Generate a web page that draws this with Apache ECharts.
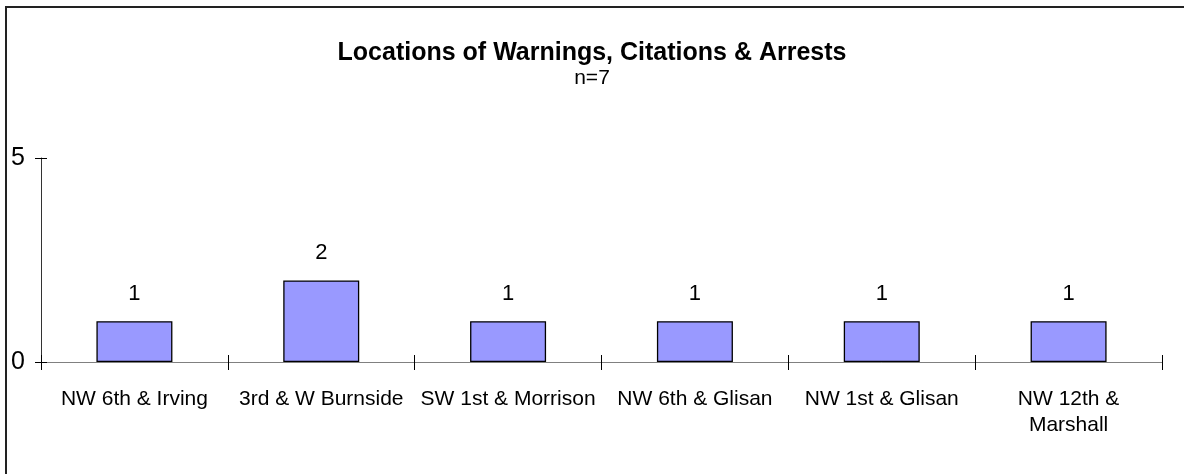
<!DOCTYPE html>
<html>
<head>
<meta charset="utf-8">
<script src="https://cdn.jsdelivr.net/npm/echarts@6/dist/echarts.min.js"></script>
<style>
  html, body { margin: 0; padding: 0; background: #fff; }
  #chart { width: 1184px; height: 474px; }
</style>
</head>
<body>
<div id="chart"></div>
<script>
// data
const locations = ['NW 6th & Irving', '3rd & W Burnside', 'SW 1st & Morrison', 'NW 6th & Glisan', 'NW 1st & Glisan', 'NW 12th &\nMarshall']
const counts = [1, 2, 1, 1, 1, 1]
const titleText = 'Locations of Warnings, Citations & Arrests'
const subText = 'n=7'

const font = '"Liberation Sans", Arial, sans-serif'
const chart = echarts.init(document.getElementById('chart'))

chart.setOption({
  backgroundColor: '#fff',
  animation: false,
  title: {
    text: titleText,
    subtext: subText,
    left: 'center',
    top: 36,
    itemGap: 2,
    textStyle: { fontFamily: font, fontSize: 25, fontWeight: 'bold', color: '#000' },
    subtextStyle: { fontFamily: font, fontSize: 21, color: '#000' },
  },
  grid: { left: 41, right: 22, top: 158, bottom: 112 },
  xAxis: [
    {
      type: 'category',
      data: locations,
      axisLine: { lineStyle: { color: '#808080', width: 1 } },
      axisTick: { show: true, length: 8, lineStyle: { color: '#000' } },
      axisLabel: { fontFamily: font, fontSize: 21, color: '#000', margin: 24, lineHeight: 26, interval: 0 },
    },
    {
      // inside ticks so the marks cross the axis
      type: 'category',
      data: locations,
      position: 'bottom',
      axisLine: { show: false },
      axisTick: { show: true, inside: true, length: 7, lineStyle: { color: '#000' } },
      axisLabel: { show: false },
    },
  ],
  yAxis: [
    {
      type: 'value',
      min: 0,
      max: 5,
      interval: 5,
      axisLine: { show: true, lineStyle: { color: '#333', width: 1 } },
      axisTick: { show: true, length: 6, lineStyle: { color: '#000' } },
      axisLabel: { fontFamily: font, fontSize: 25, color: '#000', margin: 16 },
      splitLine: { show: false },
    },
    {
      type: 'value',
      min: 0,
      max: 5,
      interval: 5,
      position: 'left',
      axisLine: { show: false },
      axisTick: { show: true, inside: true, length: 6, lineStyle: { color: '#000' } },
      axisLabel: { show: false },
      splitLine: { show: false },
    },
  ],
  series: [
    {
      type: 'bar',
      data: counts,
      barWidth: 76,
      itemStyle: { color: '#9999FF', borderColor: '#000', borderWidth: 1.3 },
      label: { show: true, position: 'top', distance: 16, fontFamily: font, fontSize: 22, color: '#000' },
    },
  ],
  graphic: [
    {
      type: 'rect',
      shape: { x: 6, y: 7, width: 1200, height: 500 },
      style: { fill: 'none', stroke: '#222', lineWidth: 2 },
      silent: true,
    },
  ],
})
</script>
</body>
</html>
